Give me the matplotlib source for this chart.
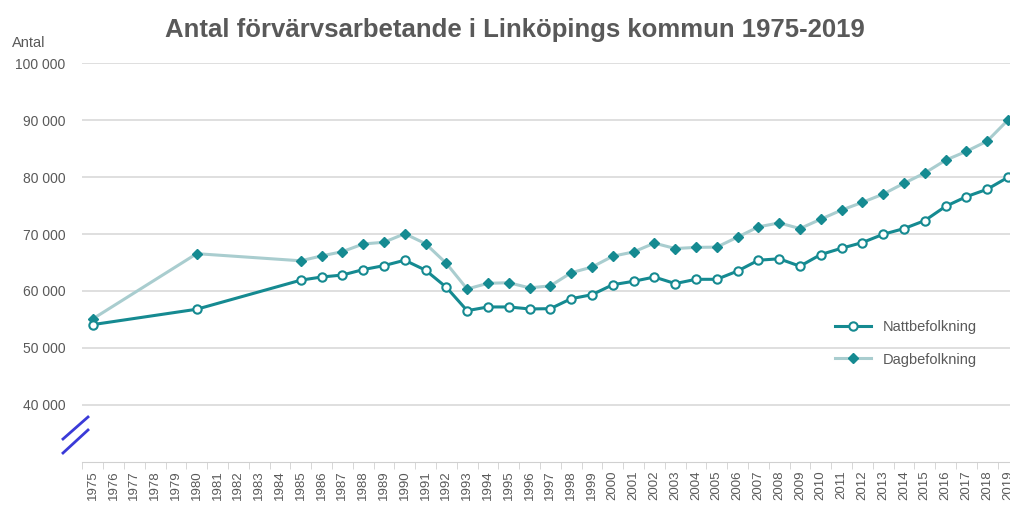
import matplotlib.pyplot as plt
from matplotlib.lines import Line2D
import numpy as np

plt.rcParams['font.family'] = ['Liberation Sans Narrow', 'Liberation Sans', 'DejaVu Sans']

years = list(range(1975, 2020))
natt = {
    1975: 54100, 1980: 56800, 1985: 61900, 1986: 62450, 1987: 62800, 1988: 63750,
    1989: 64450, 1990: 65400, 1991: 63650, 1992: 60650, 1993: 56550, 1994: 57200,
    1995: 57200, 1996: 56850, 1997: 56900, 1998: 58650, 1999: 59350, 2000: 61100,
    2001: 61700, 2002: 62450, 2003: 61300, 2004: 62050, 2005: 62050, 2006: 63500,
    2007: 65400, 2008: 65650, 2009: 64350, 2010: 66400, 2011: 67500, 2012: 68500,
    2013: 69950, 2014: 70950, 2015: 72350, 2016: 74850, 2017: 76550, 2018: 77850,
    2019: 79950,
}
dag = {
    1975: 55100, 1980: 66550, 1985: 65300, 1986: 66150, 1987: 66900, 1988: 68250,
    1989: 68550, 1990: 70050, 1991: 68300, 1992: 64850, 1993: 60350, 1994: 61350,
    1995: 61450, 1996: 60550, 1997: 60900, 1998: 63200, 1999: 64200, 2000: 66100,
    2001: 66850, 2002: 68400, 2003: 67450, 2004: 67650, 2005: 67700, 2006: 69450,
    2007: 71250, 2008: 71950, 2009: 70950, 2010: 72600, 2011: 74200, 2012: 75550,
    2013: 77000, 2014: 78900, 2015: 80700, 2016: 82950, 2017: 84500, 2018: 86300,
    2019: 90000,
}

dark = '#158A91'
light = '#A9CDCF'
grey = '#595959'

fig = plt.figure(figsize=(10.1, 5.07), dpi=100)
ax = fig.add_axes([0.0815, 0.0888, 0.9268, 0.7869])

xn = [years.index(y) for y in natt]
xd = [years.index(y) for y in dag]
ax.plot(xd, list(dag.values()), color=light, lw=2.2, marker='D', ms=5,
        mfc=dark, mec=dark, zorder=3)
ax.plot(xn, list(natt.values()), color=dark, lw=2.2, marker='o', ms=6,
        mfc='white', mec=dark, mew=1.5, zorder=4)

ax.set_xlim(-0.5, len(years) - 0.5)
ax.set_ylim(30000, 100000)
ax.set_yticks(range(40000, 100001, 10000))
ax.set_yticklabels([f'{v // 1000} 000' for v in range(40000, 100001, 10000)])
ax.grid(axis='y', color='#D9D9D9', lw=1.2)
ax.set_axisbelow(True)

ax.set_xticks(np.arange(len(years)))
ax.set_xticklabels([str(y) for y in years], rotation=90, fontsize=9.5, color=grey)
ax.set_xticks(np.arange(len(years) + 1) - 0.5, minor=True)
ax.tick_params(axis='x', which='major', length=0, pad=6)
ax.tick_params(axis='x', which='minor', length=5, color='#D0D0D0')
ax.tick_params(axis='y', length=0, labelsize=10, labelcolor=grey, pad=12)

for s in ['top', 'right', 'left']:
    ax.spines[s].set_visible(False)
ax.spines['bottom'].set_color('#D0D0D0')

fig.text(0.51, 0.94, 'Antal förvärvsarbetande i Linköpings kommun 1975-2019',
         ha='center', va='center', fontsize=18.5, fontweight='bold', color=grey)
fig.text(0.012, 0.915, 'Antal', fontsize=10.5, color=grey, va='center')

# axis break marks
fig.add_artist(Line2D([63 / 1010, 88 / 1010], [1 - 439 / 507, 1 - 417 / 507],
                      color='#3A3AD8', lw=2))
fig.add_artist(Line2D([63 / 1010, 88 / 1010], [1 - 453 / 507, 1 - 430 / 507],
                      color='#3A3AD8', lw=2))

h1 = Line2D([], [], color=dark, lw=2.2, marker='o', ms=6, mfc='white', mec=dark, mew=1.5)
h2 = Line2D([], [], color=light, lw=2.2, marker='D', ms=5, mfc=dark, mec=dark)
ax.legend([h1, h2], ['Nattbefolkning', 'Dagbefolkning'], frameon=False,
          loc='center left', bbox_to_anchor=(0.79, 0.298), fontsize=10.5,
          labelcolor=grey, handlelength=2.5, labelspacing=1.3)

fig.savefig('out.png', dpi=100)
